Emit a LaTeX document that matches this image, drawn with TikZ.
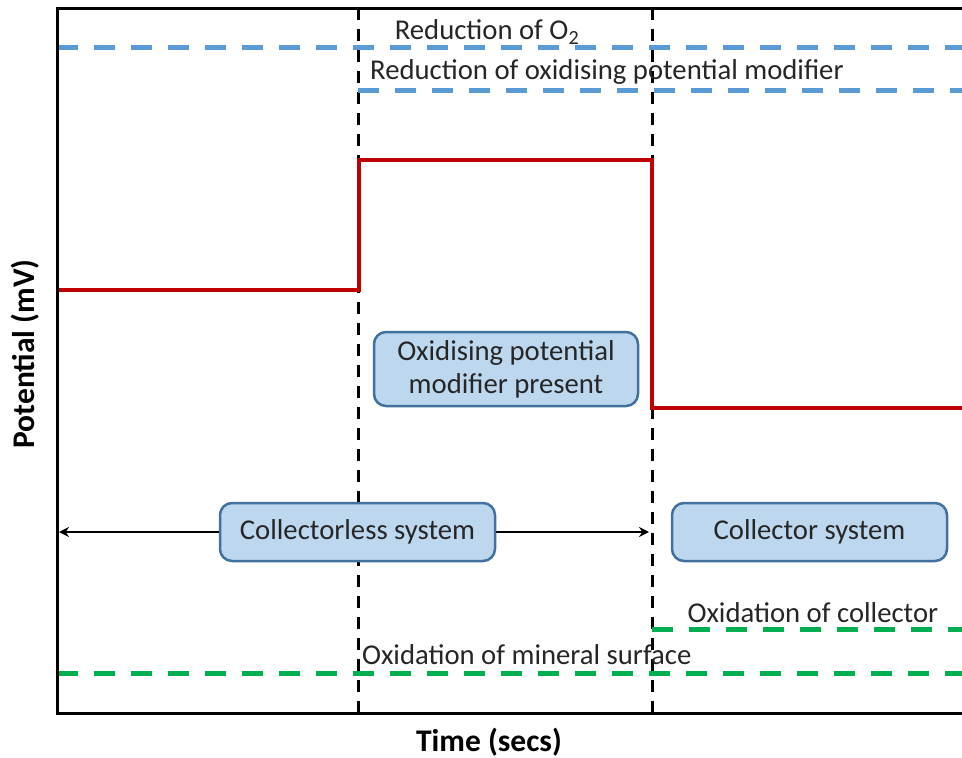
\documentclass[tikz,border=0pt]{standalone}
\usepackage{fontspec}
\setmainfont{Carlito}
\usetikzlibrary{arrows.meta}
\definecolor{blueline}{HTML}{5B9BD5}
\definecolor{greenline}{HTML}{00B050}
\definecolor{redline}{HTML}{C00000}
\definecolor{boxfill}{HTML}{BDD7EE}
\definecolor{boxborder}{HTML}{41719C}
\definecolor{textcol}{HTML}{262626}
\begin{document}
\begin{tikzpicture}[x=1pt,y=-1pt,
  axisline/.style={line width=3pt,black},
  vdash/.style={line width=3pt,black,dash pattern=on 12pt off 9pt},
  bluedash/.style={line width=5pt,blueline,dash pattern=on 21pt off 16pt},
  greendash/.style={line width=5pt,greenline,dash pattern=on 21pt off 16pt},
  redpath/.style={line width=4.5pt,redline},
  infobox/.style={draw=boxborder,fill=boxfill,line width=2.5pt,rounded corners=12pt,
    inner sep=0pt,align=center,text=textcol,font=\fontsize{28.7}{33}\selectfont},
  lbl/.style={inner sep=0pt,text=textcol,font=\fontsize{28.7}{33}\selectfont},
  axlbl/.style={inner sep=0pt,text=black,font=\fontsize{31.5}{36}\selectfont\bfseries},
  arr/.style={line width=2.5pt,black,-{Stealth[length=10pt,width=10pt]}}
]
\useasboundingbox (0,0) rectangle (962,758);
% dashed verticals
\draw[vdash] (358,8) -- (358,713);
\draw[vdash] (652,8) -- (652,713);
% blue and green levels
\draw[bluedash] (57,47) -- (962,47);
\draw[bluedash] (358,90) -- (962,90);
\draw[greendash] (57,673) -- (962,673);
\draw[greendash] (652,629) -- (962,629);
% red potential path
\draw[redpath] (57,290) -- (359,290) -- (359,160) -- (652,160) -- (652,408) -- (962,408);
% axes
\draw[axisline] (962,8) -- (57,8) -- (57,713) -- (962,713);
% labels
\node[lbl] (ro2) at (487,32) {Reduction of O\textsubscript{2}};
\node[lbl,anchor=west] (rom) at (370,72) {Reduction of oxidising potential modifier};
\node[lbl] (oc) at (813,613) {Oxidation of collector};
\node[lbl,anchor=west] (oms) at (362,655) {Oxidation of mineral surface};
% boxes
\node[infobox,minimum width=264pt,minimum height=74pt] (opm) at (506,369) {Oxidising potential\\modifier present};
\node[infobox,minimum width=275pt,minimum height=58pt] (cls) at (357.5,532) {Collectorless system};
\node[infobox,minimum width=275pt,minimum height=58pt] (cs) at (809.5,532) {Collector system};
% arrows
\coordinate (tipL) at (59,532);
\coordinate (tipR) at (649,532);
\draw[arr] (cls.west) -- (tipL);
\draw[arr] (cls.east) -- (tipR);
% axis labels
\node[axlbl,rotate=90] (ylab) at (25,354) {Potential (mV)};
\node[axlbl] (xlab) at (489,742) {Time (secs)};
\end{tikzpicture}
\end{document}
